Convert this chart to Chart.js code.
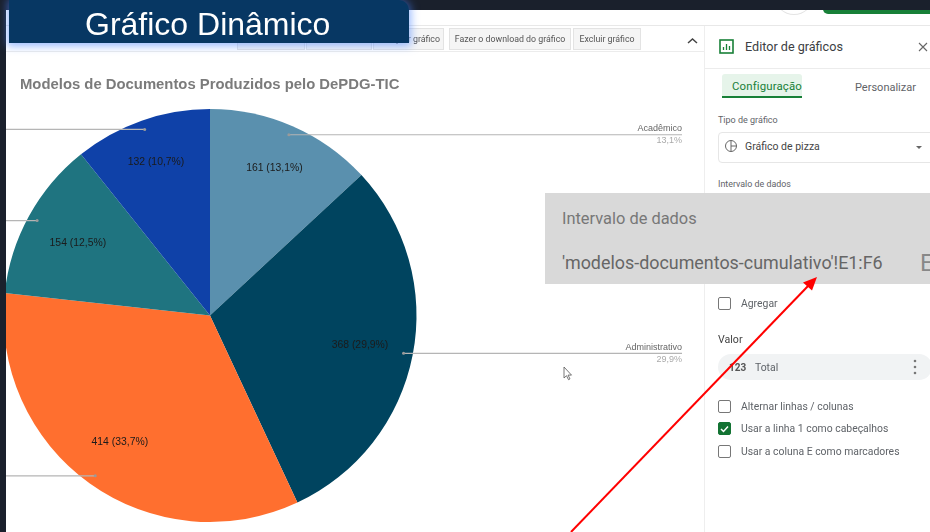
<!DOCTYPE html>
<html lang="pt-BR">
<head>
<meta charset="utf-8">
<style>
html,body{margin:0;padding:0;background:#fff;overflow:hidden}
#stage{position:relative;width:930px;height:532px;overflow:hidden;background:#fff;font-family:Roboto,sans-serif;color:#5f6368;filter:blur(.35px)}
canvas{position:absolute;left:0;top:0}
.t{position:absolute;white-space:nowrap;line-height:1;transform:translateY(-50%)}
.b{position:absolute;box-sizing:border-box}
.btn{position:absolute;top:28px;height:22px;box-sizing:border-box;background:#f5f5f5;border:1px solid #e3e3e3;font-size:8.8px;line-height:20px;text-align:center;color:#555;white-space:nowrap}
.cb{position:absolute;left:718px;width:13px;height:13px;box-sizing:border-box;border:1.5px solid #777;border-radius:2px;background:#fff}
svg{position:absolute;left:0;top:0}
</style>
</head>
<body>
<div id="stage">
<canvas id="c" width="930" height="532"></canvas>
<div class="b" style="left:0;top:25px;width:930px;height:1px;background:#e8e8e8"></div>
<div class="b" style="left:0;top:51px;width:704px;height:1px;background:#ececec"></div>
<div class="btn" style="left:237px;width:68px"></div>
<div class="btn" style="left:306px;width:66px"></div>
<div class="btn" style="left:373px;width:71px;text-align:right;padding-right:3px">Copiar gráfico</div>
<div class="btn" style="left:449px;width:122px">Fazer o download do gráfico</div>
<div class="btn" style="left:573px;width:68px">Excluir gráfico</div>
<div class="b" style="left:704px;top:26px;width:226px;height:506px;background:#fff;border-left:1px solid #eee"></div>
<div class="b" style="left:705px;top:68px;width:225px;height:1px;background:#ececec"></div>
<div class="t" style="left:745px;top:47px;font-size:12.6px;color:#3c4043">Editor de gráficos</div>
<div class="b" style="left:722px;top:74px;width:80px;height:24px;background:#e6f4ea;border-bottom:2px solid #188038;border-radius:3px 3px 0 0"></div>
<div class="t" style="left:732px;top:87px;font-size:11.4px;color:#188038;letter-spacing:.15px">Configuração</div>
<div class="t" style="left:855px;top:87px;font-size:11px;letter-spacing:0">Personalizar</div>
<div class="t" style="left:718px;top:120px;font-size:9px">Tipo de gráfico</div>
<div class="b" style="left:718px;top:132px;width:225px;height:31px;border:1px solid #e6e6e6;border-radius:4px"></div>
<div class="t" style="left:745px;top:147px;font-size:10.5px;color:#444">Gráfico de pizza</div>
<div class="t" style="left:718px;top:184px;font-size:8.9px">Intervalo de dados</div>
<div class="b" style="left:545px;top:193px;width:385px;height:91px;background:#d9d9d9"></div>
<div class="t" style="left:562px;top:219px;font-size:16.4px;color:#777">Intervalo de dados</div>
<div class="t" style="left:562px;top:263px;font-size:17.9px;color:#666">'modelos-documentos-cumulativo'!E1:F6</div>
<div class="t" style="left:920px;top:263px;font-size:24px;color:#888">E</div>
<div class="cb" style="top:297px"></div>
<div class="t" style="left:741px;top:304px;font-size:10.4px">Agregar</div>
<div class="t" style="left:718px;top:340px;font-size:10.6px;color:#444">Valor</div>
<div class="b" style="left:718px;top:354px;width:214px;height:26px;background:#f1f3f4;border-radius:13px"></div>
<div class="t" style="left:729px;top:368px;font-size:10px;font-weight:700;color:#555">123</div>
<div class="t" style="left:755px;top:368px;font-size:10.4px">Total</div>
<div class="cb" style="top:400px"></div>
<div class="t" style="left:741px;top:407px;font-size:10.4px">Alternar linhas / colunas</div>
<div class="cb" style="top:422px;background:#137333;border-color:#137333"></div>
<div class="t" style="left:741px;top:429px;font-size:10.4px">Usar a linha 1 como cabeçalhos</div>
<div class="cb" style="top:445px"></div>
<div class="t" style="left:741px;top:452px;font-size:10.4px">Usar a coluna E como marcadores</div>
<svg width="930" height="532" viewBox="0 0 930 532">
<rect x="720" y="40" width="13" height="13" fill="none" stroke="#188038" stroke-width="1.6"/>
<path d="M723.5 50v-3M726.5 50v-6M729.5 50v-4" stroke="#188038" stroke-width="1.3"/>
<path d="M919 43l8 8M927 43l-8 8" stroke="#666" stroke-width="1.1"/>
<path d="M688 43l4.5-4 4.5 4" fill="none" stroke="#444" stroke-width="1.5"/>
<circle cx="731" cy="146" r="5.5" fill="none" stroke="#666"/>
<path d="M731 140.500v11M731 146h5.500" stroke="#666"/>
<path d="M916 146h6l-3 3z" fill="#666"/>
<circle cx="915" cy="361" r="1.300" fill="#777"/><circle cx="915" cy="367" r="1.300" fill="#777"/><circle cx="915" cy="373" r="1.300" fill="#777"/>
<path d="M721 429l2.500 2.500 4.500-5" fill="none" stroke="#fff" stroke-width="1.500"/>
<path d="M564 367v11l2.500-2.300 2 4 1.500-.8-2-3.800h3.500z" fill="#fff" stroke="#555" stroke-width=".8"/>
<path d="M571 532L809 285" stroke="#f00" stroke-width="2" fill="none"/>
<path d="M817 277l-14 5.500 9 8z" fill="#f00"/>
</svg>
<div class="b" style="left:775px;top:-20px;width:38px;height:35px;border:1px solid #e4e4e4;border-radius:50%;background:#fff"></div>
<div class="b" style="left:823px;top:0;width:107px;height:14px;background:#188038;border-radius:0 0 0 5px"></div>
<div class="b" style="left:0;top:0;width:930px;height:10px;background:#1a202c"></div>
<div class="b" style="left:0;top:0;width:6px;height:532px;background:#1a202c"></div>
<div class="b" style="left:9px;top:0;width:400px;height:43px;background:#073763;border-radius:0 10px 0 0;box-shadow:0 1px 8px 2px rgba(70,130,255,.55)"></div>
<div class="t" style="left:85px;top:24px;font-family:'Liberation Sans',Arial,sans-serif;font-size:32px;color:#fff">Gráfico Dinâmico</div>
</div>
<script src="https://cdn.jsdelivr.net/npm/chart.js@4/dist/chart.umd.min.js"></script>
<script>
const chartTitle = 'Modelos de Documentos Produzidos pelo DePDG-TIC';
const categories = ['Acadêmico', 'Administrativo', '', '', ''];
const values = [161, 368, 414, 154, 132];
const sliceColors = ['#5a90ae', '#00445f', '#ff6f2f', '#1f7480', '#0f41a8'];
const labelRadii = [0.78, 0.74, 0.75, 0.73, 0.79];

const total = values.reduce((a, b) => a + b, 0);
const pct = v => (v / total * 100).toFixed(1).replace('.', ',') + '%';

const piePlugin = {
  id: 'pieAnnotations',
  afterDatasetsDraw(chart) {
    const ctx = chart.ctx;
    const arcs = chart.getDatasetMeta(0).data;
    ctx.save();
    ctx.font = 'bold 14.85px "Liberation Sans", Arial, sans-serif';
    ctx.fillStyle = '#7b7b7b';
    ctx.textAlign = 'left';
    ctx.textBaseline = 'middle';
    ctx.fillText(chartTitle, 20, 84.5);
    arcs.forEach((arc, i) => {
      const mid = (arc.startAngle + arc.endAngle) / 2;
      const R = arc.outerRadius;
      const dotX = arc.x + Math.cos(mid) * R * 0.955;
      const dotY = arc.y + Math.sin(mid) * R * 0.955;
      const right = Math.cos(mid) > 0;
      const endX = right ? 682 : 0;
      ctx.strokeStyle = '#b5b5b5';
      ctx.lineWidth = 1.2;
      ctx.beginPath();
      ctx.moveTo(dotX, dotY);
      ctx.lineTo(endX, dotY);
      ctx.stroke();
      ctx.fillStyle = '#9a9a9a';
      ctx.beginPath();
      ctx.arc(dotX, dotY, 1.5, 0, Math.PI * 2);
      ctx.fill();
      ctx.font = '9px "Liberation Sans", Arial, sans-serif';
      if (categories[i]) {
        ctx.textAlign = 'right';
        ctx.fillStyle = '#666';
        ctx.fillText(categories[i], endX, dotY - 6);
        ctx.fillStyle = '#aaa';
        ctx.fillText(pct(values[i]), endX, dotY + 6);
      }
      ctx.font = '10.4px "Liberation Sans", Arial, sans-serif';
      ctx.textAlign = 'center';
      ctx.fillStyle = '#1b1b1b';
      const lx = arc.x + Math.cos(mid) * R * labelRadii[i];
      const ly = arc.y + Math.sin(mid) * R * labelRadii[i];
      ctx.fillText(values[i] + ' (' + pct(values[i]) + ')', lx, ly + 0.5);
    });
    ctx.restore();
  }
};

new Chart(document.getElementById('c'), {
  type: 'pie',
  data: {
    labels: categories,
    datasets: [{ data: values, backgroundColor: sliceColors, borderWidth: 0 }]
  },
  options: {
    responsive: false,
    animation: false,
    layout: { padding: { left: 3, right: 513, top: 109, bottom: 10 } },
    plugins: { legend: { display: false }, tooltip: { enabled: false }, title: { display: false } }
  },
  plugins: [piePlugin]
});
</script>
</body>
</html>
